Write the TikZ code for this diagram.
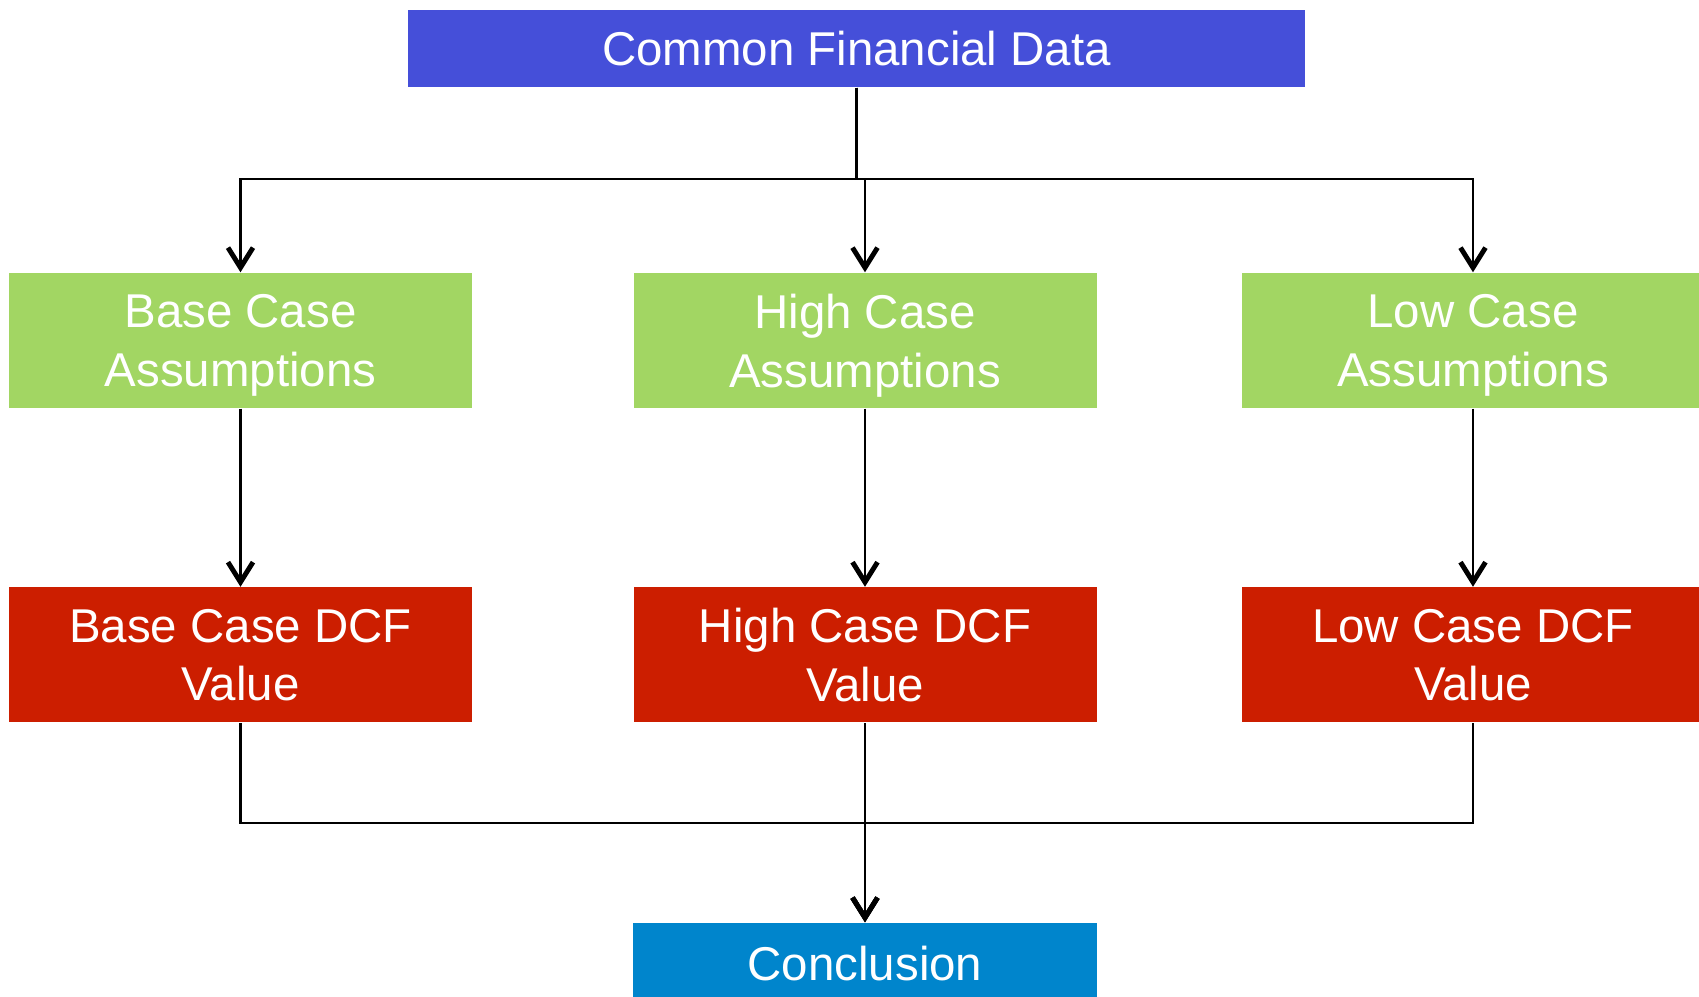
\documentclass[tikz,border=0pt]{standalone}
\usepackage{fontspec}
\setmainfont{Liberation Sans}
\usetikzlibrary{arrows.meta}

\definecolor{datablue}{RGB}{69,79,217}
\definecolor{casegreen}{RGB}{162,214,99}
\definecolor{dcfred}{RGB}{204,30,0}
\definecolor{endblue}{RGB}{0,133,204}

\begin{document}
\begin{tikzpicture}[
    box/.style={minimum width=4.63cm, minimum height=1.35cm, inner sep=0pt,
        text=white, align=center, text depth=-0.06cm,
        font=\fontsize{13.5}{16.7}\selectfont},
    flow/.style={line width=0.6pt,
        -{Straight Barb[length=0.2cm,width=0.25cm,line width=1.4pt]}}
]
    \useasboundingbox (0,0) rectangle (16.99,-9.97);

    \node[box, fill=datablue, minimum width=8.97cm, minimum height=0.77cm] (data) at (8.565,-0.485) {Common Financial Data};
    \coordinate (split) at (8.565,-1.79);
    \coordinate (merge) at (8.65,-8.23);
    \node[box, fill=endblue, minimum width=4.64cm, minimum height=0.8cm] (concl) at (8.65,-9.63) {Conclusion};

    \foreach \n/\x/\lbl in {base/2.405/Base, high/8.65/High, low/14.73/Low} {
        \node[box, fill=casegreen] (\n) at (\x,-3.405) {\lbl{} Case\\Assumptions};
        \node[box, fill=dcfred] (\n dcf) at (\x,-6.55) {\lbl{} Case DCF\\Value};
        \draw[flow] (data.south) -- (split) -| (\n.north);
        \draw[flow] (\n.south) -- (\n dcf.north);
        \draw[flow] (\n dcf.south) |- (merge) -- (concl.north);
    }

\end{tikzpicture}
\end{document}
